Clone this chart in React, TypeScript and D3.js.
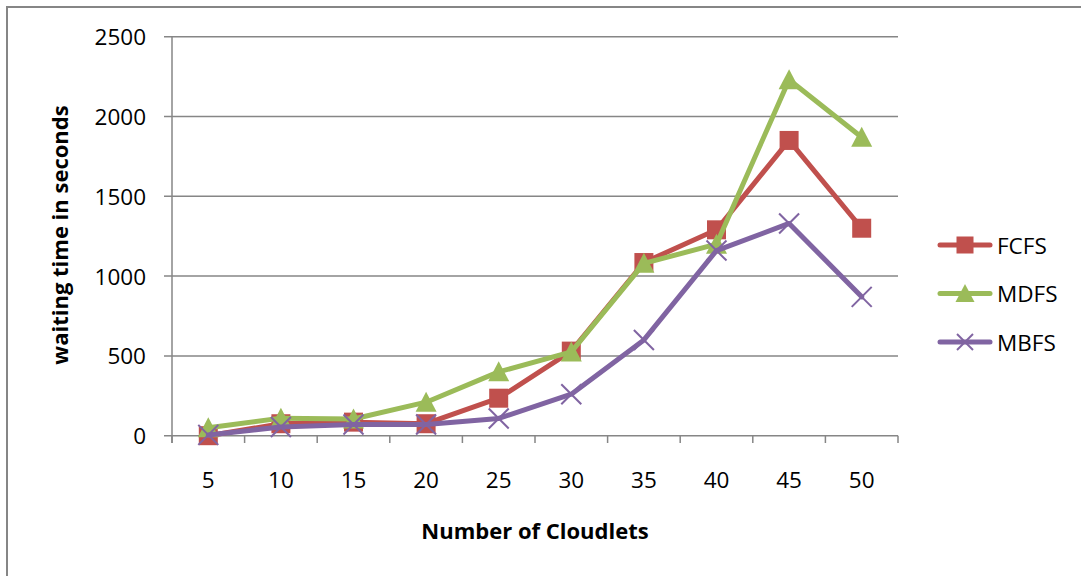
import React from "react";
import * as d3 from "d3";

// Cloudlet counts on the x axis
const cloudlets = ["5", "10", "15", "20", "25", "30", "35", "40", "45", "50"];

// Waiting time (seconds) per scheduling policy
const fcfs = [0, 75, 85, 75, 235, 530, 1085, 1290, 1850, 1300];
const mdfs = [50, 110, 105, 210, 400, 525, 1080, 1200, 2230, 1870];
const mbfs = [5, 55, 70, 70, 108, 260, 600, 1160, 1330, 870];

const yTicks = [0, 500, 1000, 1500, 2000, 2500];

const seriesNames = ["FCFS", "MDFS", "MBFS"];
const seriesColors = ["#C0504D", "#9BBB59", "#8064A2"];

const W = 1081;
const H = 576;
const FONT = "'Open Sans', 'DejaVu Sans', sans-serif";
const GRID = "#868686";

type Marker = "square" | "triangle" | "cross";

function MarkerShape({ kind, x, y, color, size }: { kind: Marker; x: number; y: number; color: string; size: number }) {
  const h = size / 2;
  if (kind === "square") {
    return <rect x={x - h} y={y - h} width={size} height={size} fill={color} />;
  }
  if (kind === "triangle") {
    const path = `M${x},${y - h - 1} L${x + h + 1},${y + h} L${x - h - 1},${y + h} Z`;
    return <path d={path} fill={color} />;
  }
  return (
    <g stroke={color} strokeWidth={2}>
      <line x1={x - h} y1={y - h} x2={x + h} y2={y + h} />
      <line x1={x - h} y1={y + h} x2={x + h} y2={y - h} />
    </g>
  );
}

export default function App() {
  const x = d3.scaleBand<string>().domain(cloudlets).range([172, 898]).padding(0);
  const y = d3.scaleLinear().domain([0, 2500]).range([435.7, 36.7]);

  const series: { name: string; values: number[]; color: string; marker: Marker }[] = [
    { name: seriesNames[0], values: fcfs, color: seriesColors[0], marker: "square" },
    { name: seriesNames[1], values: mdfs, color: seriesColors[1], marker: "triangle" },
    { name: seriesNames[2], values: mbfs, color: seriesColors[2], marker: "cross" },
  ];

  const cx = (c: string) => (x(c) ?? 0) + x.bandwidth() / 2;
  const line = d3
    .line<number>()
    .x((_, i) => cx(cloudlets[i]))
    .y((d) => y(d));

  const boundaries = cloudlets.map((c) => x(c) ?? 0).concat([898]);

  return (
    <svg
      width={W}
      height={H}
      style={{ position: "absolute", left: 0, top: 0, background: "#fff" }}
      fontFamily={FONT}
    >
      {/* outer frame */}
      <path d={`M7,${H + 5} L7,7 L${W + 5},7`} fill="none" stroke={GRID} strokeWidth={2} />

      {/* horizontal gridlines and y tick marks */}
      {yTicks.map((t) => (
        <line key={t} x1={164} x2={898} y1={y(t)} y2={y(t)} stroke={GRID} strokeWidth={1.5} />
      ))}
      {/* y axis */}
      <line x1={172} x2={172} y1={y(2500)} y2={443} stroke={GRID} strokeWidth={1.5} />
      {/* x tick marks */}
      {boundaries.map((b, i) => (
        <line key={i} x1={b} x2={b} y1={y(0)} y2={443} stroke={GRID} strokeWidth={1.5} />
      ))}

      {/* y tick labels */}
      {yTicks.map((t) => (
        <text key={t} x={146} y={y(t)} textAnchor="end" dominantBaseline="central" fontSize={22.5} fill="#000">
          {t}
        </text>
      ))}
      {/* x tick labels */}
      {cloudlets.map((c) => (
        <text key={c} x={cx(c)} y={479} textAnchor="middle" dominantBaseline="central" fontSize={22.5} fill="#000">
          {c}
        </text>
      ))}

      {/* axis titles */}
      <text
        transform="translate(59,235) rotate(-90)"
        textAnchor="middle"
        dominantBaseline="central"
        fontSize={22}
        fontWeight="bold"
        fill="#000"
      >
        waiting time in seconds
      </text>
      <text x={535} y={530} textAnchor="middle" dominantBaseline="central" fontSize={22} fontWeight="bold" fill="#000">
        Number of Cloudlets
      </text>

      {/* series lines and markers */}
      {series.map((s) => (
        <g key={s.name}>
          <path d={line(s.values) ?? ""} fill="none" stroke={s.color} strokeWidth={5} strokeLinejoin="round" strokeLinecap="round" />
          {s.values.map((v, i) => (
            <MarkerShape key={i} kind={s.marker} x={cx(cloudlets[i])} y={y(v)} color={s.color} size={s.marker === "cross" ? 20 : 19} />
          ))}
        </g>
      ))}

      {/* legend */}
      {series.map((s, i) => {
        const ly = 245 + i * 48.5;
        return (
          <g key={s.name}>
            <line x1={940} x2={990} y1={ly} y2={ly} stroke={s.color} strokeWidth={5} strokeLinecap="round" />
            <MarkerShape kind={s.marker} x={965} y={ly} color={s.color} size={s.marker === "cross" ? 16 : 17} />
            <text x={997} y={ly} dominantBaseline="central" fontSize={22.5} fill="#000">
              {s.name}
            </text>
          </g>
        );
      })}
    </svg>
  );
}
